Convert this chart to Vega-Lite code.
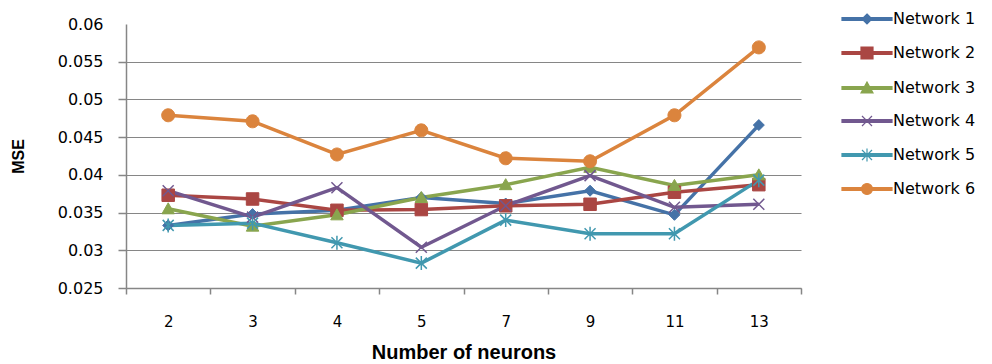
{
  "$schema": "https://vega.github.io/schema/vega-lite/v6.json",
  "width": 675,
  "height": 264,
  "autosize": {"type": "none"},
  "padding": {"left": 126, "top": 24, "right": 191, "bottom": 76},
  "background": "white",
  "config": {
    "view": {"stroke": null},
    "font": "DejaVu Sans"
  },
  "data": {
    "values": [
      {"n": 2, "net": "Network 1", "mse": 0.0333},
      {"n": 3, "net": "Network 1", "mse": 0.0348},
      {"n": 4, "net": "Network 1", "mse": 0.0353},
      {"n": 5, "net": "Network 1", "mse": 0.0370},
      {"n": 7, "net": "Network 1", "mse": 0.0362},
      {"n": 9, "net": "Network 1", "mse": 0.0379},
      {"n": 11, "net": "Network 1", "mse": 0.0347},
      {"n": 13, "net": "Network 1", "mse": 0.0466},
      {"n": 2, "net": "Network 2", "mse": 0.0373},
      {"n": 3, "net": "Network 2", "mse": 0.0368},
      {"n": 4, "net": "Network 2", "mse": 0.0353},
      {"n": 5, "net": "Network 2", "mse": 0.0354},
      {"n": 7, "net": "Network 2", "mse": 0.0359},
      {"n": 9, "net": "Network 2", "mse": 0.0361},
      {"n": 11, "net": "Network 2", "mse": 0.0377},
      {"n": 13, "net": "Network 2", "mse": 0.0387},
      {"n": 2, "net": "Network 3", "mse": 0.0355},
      {"n": 3, "net": "Network 3", "mse": 0.0332},
      {"n": 4, "net": "Network 3", "mse": 0.0347},
      {"n": 5, "net": "Network 3", "mse": 0.0370},
      {"n": 7, "net": "Network 3", "mse": 0.0387},
      {"n": 9, "net": "Network 3", "mse": 0.0410},
      {"n": 11, "net": "Network 3", "mse": 0.0386},
      {"n": 13, "net": "Network 3", "mse": 0.0400},
      {"n": 2, "net": "Network 4", "mse": 0.0379},
      {"n": 3, "net": "Network 4", "mse": 0.0344},
      {"n": 4, "net": "Network 4", "mse": 0.0383},
      {"n": 5, "net": "Network 4", "mse": 0.0304},
      {"n": 7, "net": "Network 4", "mse": 0.0359},
      {"n": 9, "net": "Network 4", "mse": 0.0399},
      {"n": 11, "net": "Network 4", "mse": 0.0357},
      {"n": 13, "net": "Network 4", "mse": 0.0361},
      {"n": 2, "net": "Network 5", "mse": 0.0333},
      {"n": 3, "net": "Network 5", "mse": 0.0336},
      {"n": 4, "net": "Network 5", "mse": 0.0310},
      {"n": 5, "net": "Network 5", "mse": 0.0283},
      {"n": 7, "net": "Network 5", "mse": 0.0340},
      {"n": 9, "net": "Network 5", "mse": 0.0322},
      {"n": 11, "net": "Network 5", "mse": 0.0322},
      {"n": 13, "net": "Network 5", "mse": 0.0393},
      {"n": 2, "net": "Network 6", "mse": 0.0479},
      {"n": 3, "net": "Network 6", "mse": 0.0471},
      {"n": 4, "net": "Network 6", "mse": 0.0427},
      {"n": 5, "net": "Network 6", "mse": 0.0459},
      {"n": 7, "net": "Network 6", "mse": 0.0422},
      {"n": 9, "net": "Network 6", "mse": 0.0418},
      {"n": 11, "net": "Network 6", "mse": 0.0479},
      {"n": 13, "net": "Network 6", "mse": 0.0569}
    ]
  },
  "encoding": {
    "x": {
      "field": "n",
      "type": "ordinal",
      "scale": {"type": "band", "paddingInner": 0, "paddingOuter": 0},
      "axis": {
        "title": "Number of neurons",
        "labelAngle": 0,
        "labelFont": "DejaVu Sans",
        "labelFontSize": 15,
        "labelColor": "#000000",
        "labelPadding": 20,
        "tickBand": "extent",
        "tickSize": 6,
        "tickColor": "#868686",
        "tickWidth": 1.5,
        "domainColor": "#868686",
        "domainWidth": 1.5,
        "grid": false,
        "titleFont": "Liberation Sans",
        "titleFontSize": 20,
        "titleFontWeight": "bold",
        "titleColor": "#000000",
        "titleBaseline": "middle",
        "titleY": 64
      }
    },
    "y": {
      "field": "mse",
      "type": "quantitative",
      "scale": {"domain": [0.025, 0.06], "nice": false, "zero": false},
      "axis": {
        "title": "MSE",
        "values": [0.025, 0.03, 0.035, 0.04, 0.045, 0.05, 0.055, 0.06],
        "format": "~g",
        "labelFont": "DejaVu Sans",
        "labelFontSize": 16,
        "labelColor": "#000000",
        "labelPadding": 15,
        "tickSize": 8,
        "tickColor": "#868686",
        "tickWidth": 1.5,
        "tickOpacity": {"condition": {"test": "datum.value >= 0.06", "value": 0}, "value": 1},
        "domainColor": "#868686",
        "domainWidth": 1.5,
        "grid": true,
        "gridColor": "#868686",
        "gridWidth": 1.2,
        "gridOpacity": {"condition": {"test": "datum.value >= 0.06", "value": 0}, "value": 1},
        "titleFont": "Liberation Sans",
        "titleFontSize": 16,
        "titleFontWeight": "bold",
        "titleColor": "#000000",
        "titleX": -108,
        "titleY": 132,
        "titleBaseline": "middle"
      }
    },
    "color": {
      "field": "net",
      "type": "nominal",
      "scale": {
        "domain": ["Network 1", "Network 2", "Network 3", "Network 4", "Network 5", "Network 6"],
        "range": ["#4572A7", "#AA4643", "#89A54E", "#71588F", "#4198AF", "#DB843D"]
      },
      "legend": {
        "title": null,
        "orient": "none",
        "legendX": 733,
        "legendY": -13,
        "padding": 0,
        "labelFont": "DejaVu Sans",
        "labelFontSize": 16,
        "labelColor": "#000000",
        "labelOffset": 18,
        "rowPadding": 17,
        "symbolSize": 100,
        "symbolStrokeWidth": 1.2,
        "encode": {
          "symbols": {
            "update": {
              "shape": {"signal": "datum.value === 'Network 1' ? 'M-5,-0.3H5V0.3H-5Z M0,-1L1,0L0,1L-1,0Z' : datum.value === 'Network 2' ? 'M-5,-0.3H5V0.3H-5Z M-1.2,-1.2H1.2V1.2H-1.2Z' : datum.value === 'Network 3' ? 'M-5,-0.3H5V0.3H-5Z M0,-1.2L1.2,1L-1.2,1Z' : datum.value === 'Network 4' ? 'M-5,-0.3H5V0.3H-5Z M-1,-1L1,1M-1,1L1,-1' : datum.value === 'Network 5' ? 'M-5,-0.3H5V0.3H-5Z M-1,-1L1,1M-1,1L1,-1M0,-1.3V1.3' : 'M-5,-0.3H5V0.3H-5Z M-1.1,0A1.1,1.1,0,1,1,1.1,0A1.1,1.1,0,1,1,-1.1,0Z'"},
              "fill": {"scale": "color", "field": "value"},
              "stroke": {"scale": "color", "field": "value"},
              "strokeWidth": {"value": 1.2},
              "opacity": {"value": 1}
            }
          }
        }
      }
    }
  },
  "layer": [
    {
      "mark": {"type": "line", "strokeWidth": 3.5}
    },
    {
      "transform": [{"filter": "datum.net === 'Network 1'"}],
      "mark": {"type": "point", "filled": true, "opacity": 1, "size": 100, "shape": "M0,-1.1L1.1,0L0,1.1L-1.1,0Z", "stroke": "#4572A7", "strokeWidth": 1}
    },
    {
      "transform": [{"filter": "datum.net === 'Network 2'"}],
      "mark": {"type": "point", "filled": true, "opacity": 1, "size": 100, "shape": "M-1.25,-1.25H1.25V1.25H-1.25Z", "stroke": "#AA4643", "strokeWidth": 1}
    },
    {
      "transform": [{"filter": "datum.net === 'Network 3'"}],
      "mark": {"type": "point", "filled": true, "opacity": 1, "size": 100, "shape": "M0,-1.2L1.25,1L-1.25,1Z", "stroke": "#89A54E", "strokeWidth": 1}
    },
    {
      "transform": [{"filter": "datum.net === 'Network 4'"}],
      "mark": {"type": "point", "filled": true, "opacity": 1, "size": 100, "shape": "M-1.1,-1.1L1.1,1.1M-1.1,1.1L1.1,-1.1", "stroke": "#71588F", "strokeWidth": 1.5}
    },
    {
      "transform": [{"filter": "datum.net === 'Network 5'"}],
      "mark": {"type": "point", "filled": true, "opacity": 1, "size": 100, "shape": "M-1.1,-1.1L1.1,1.1M-1.1,1.1L1.1,-1.1M0,-1.4V1.4", "stroke": "#4198AF", "strokeWidth": 1.5}
    },
    {
      "transform": [{"filter": "datum.net === 'Network 6'"}],
      "mark": {"type": "point", "filled": true, "opacity": 1, "size": 100, "shape": "M-1.3,0A1.3,1.3,0,1,1,1.3,0A1.3,1.3,0,1,1,-1.3,0Z", "stroke": "#DB843D", "strokeWidth": 1}
    }
  ]
}
